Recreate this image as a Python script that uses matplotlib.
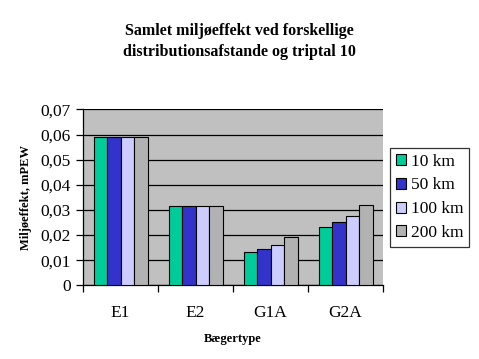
import numpy as np
import matplotlib
matplotlib.use("Agg")
import matplotlib.pyplot as plt
from matplotlib.ticker import FixedLocator, FuncFormatter

# Data
categories = ["E1", "E2", "G1A", "G2A"]
series = ["10 km", "50 km", "100 km", "200 km"]
km10 = [0.059, 0.0316, 0.0132, 0.0232]
km50 = [0.059, 0.0316, 0.0144, 0.0252]
km100 = [0.059, 0.0316, 0.0160, 0.0276]
km200 = [0.059, 0.0316, 0.0192, 0.0320]
colors = ["#00CC99", "#3333CC", "#CCCCFF", "#B2B2B2"]

plt.rcParams["font.family"] = ["Liberation Serif", "DejaVu Serif"]

fig = plt.figure(figsize=(4.79, 3.59), dpi=100)
ax = fig.add_axes([0.1733, 0.2053, 0.6263, 0.490])
ax.set_facecolor("#C0C0C0")

x = np.arange(len(categories))
w = 0.18
for i, (vals, name) in enumerate(zip([km10, km50, km100, km200], series)):
    ax.bar(x + (i - 1.5) * w, vals, w, color=colors[i], edgecolor="black",
           linewidth=0.8, label=name, zorder=3)

ax.set_ylim(0, 0.07)
ax.set_xlim(-0.5, 3.5)
ax.set_yticks(np.arange(0, 0.0701, 0.01))
ax.yaxis.set_major_formatter(FuncFormatter(lambda v, p: "0" if v == 0 else f"{v:.2f}".replace(".", ",")))
ax.grid(axis="y", color="black", linewidth=0.9, zorder=1)
ax.set_axisbelow(True)

ax.set_xticks(x)
ax.set_xticklabels(categories)
ax.xaxis.set_minor_locator(FixedLocator([-0.5, 0.5, 1.5, 2.5, 3.5]))
ax.tick_params(axis="x", which="major", length=0, pad=14, labelsize=12.5)
ax.tick_params(axis="x", which="minor", length=5, width=0.9)
ax.tick_params(axis="y", length=5, width=0.9, labelsize=12.5, pad=4)

for s in ["top", "right"]:
    ax.spines[s].set_visible(False)
for s in ["left", "bottom"]:
    ax.spines[s].set_linewidth(0.9)

ax.set_xlabel("Bægertype", fontsize=9, fontweight="bold", labelpad=9)
ax.set_ylabel("Miljøeffekt, mPEW", fontsize=9, fontweight="bold", labelpad=6)

fig.text(0.5, 0.885, "Samlet miljøeffekt ved forskellige\ndistributionsafstande og triptal 10",
         ha="center", va="center", fontsize=11.5, fontweight="bold", linespacing=1.45)

leg = ax.legend(loc="center left", bbox_to_anchor=(1.005, 0.5), fontsize=12.5,
                frameon=True, fancybox=False, edgecolor="black",
                handlelength=0.6, handleheight=0.6, handletextpad=0.25,
                labelspacing=0.45, borderpad=0.35, borderaxespad=0.3)
leg.get_frame().set_linewidth(0.9)

fig.savefig("out.png", dpi=100)
